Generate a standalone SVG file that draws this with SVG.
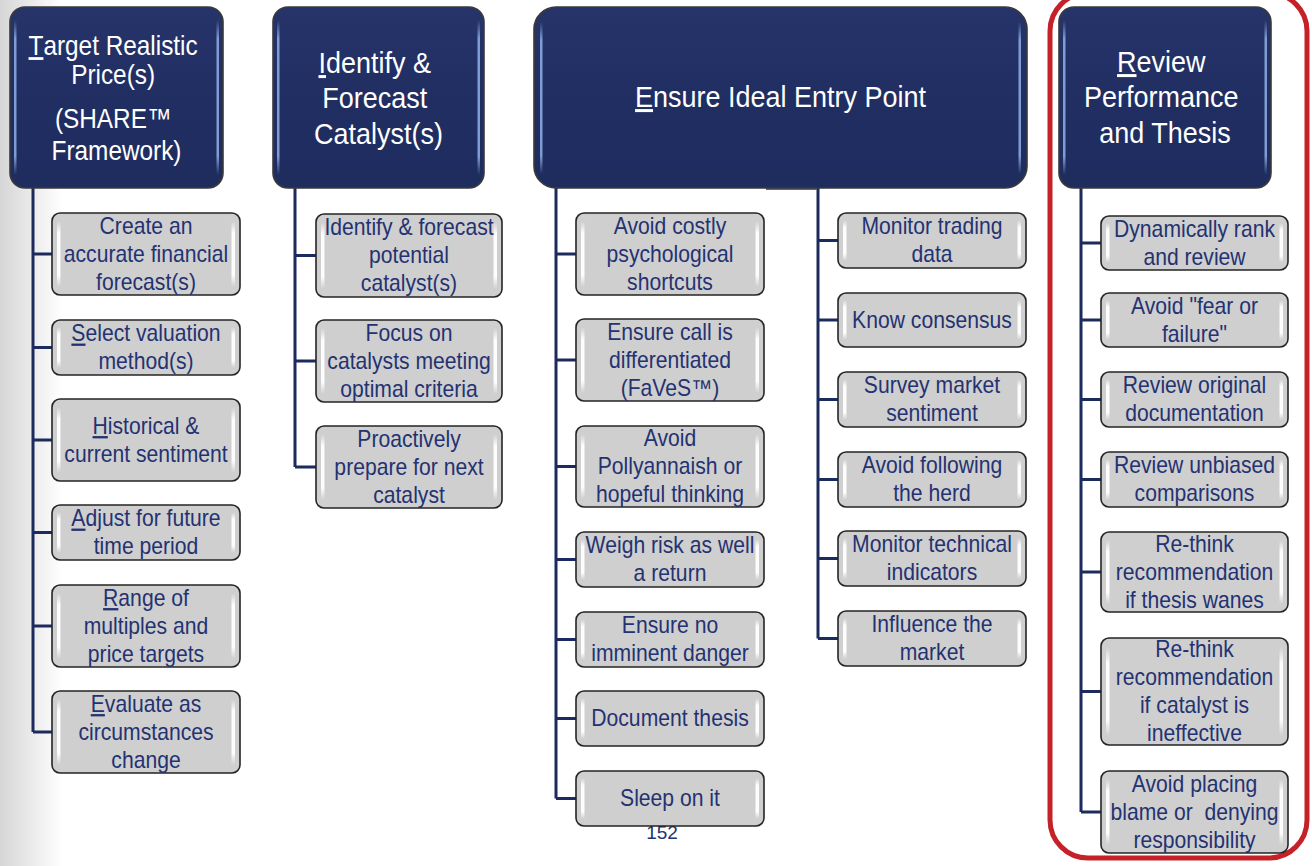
<svg xmlns="http://www.w3.org/2000/svg" width="1312" height="866" viewBox="0 0 1312 866">
<defs>
  <linearGradient id="pageEdge" x1="0" y1="0" x2="1" y2="0">
    <stop offset="0" stop-color="#d6d6d6"/>
    <stop offset="0.6" stop-color="#eeeeee"/>
    <stop offset="1" stop-color="#ffffff"/>
  </linearGradient>
  <linearGradient id="hdrFill" x1="0" y1="0" x2="0" y2="1">
    <stop offset="0" stop-color="#26346a"/>
    <stop offset="0.5" stop-color="#212e62"/>
    <stop offset="1" stop-color="#1f2c5e"/>
  </linearGradient>
  <linearGradient id="hdrHl" x1="0" y1="0" x2="0" y2="1">
    <stop offset="0" stop-color="#8fb0e8" stop-opacity="0"/>
    <stop offset="0.12" stop-color="#8fb0e8" stop-opacity="0.85"/>
    <stop offset="0.88" stop-color="#8fb0e8" stop-opacity="0.85"/>
    <stop offset="1" stop-color="#8fb0e8" stop-opacity="0"/>
  </linearGradient>
  <linearGradient id="boxHl" x1="0" y1="0" x2="0" y2="1">
    <stop offset="0" stop-color="#ffffff" stop-opacity="0"/>
    <stop offset="0.18" stop-color="#ffffff" stop-opacity="0.95"/>
    <stop offset="0.82" stop-color="#ffffff" stop-opacity="0.95"/>
    <stop offset="1" stop-color="#ffffff" stop-opacity="0"/>
  </linearGradient>
</defs>
<style>
  .hdr { fill: url(#hdrFill); stroke: #3a3a3a; stroke-width: 1.6; }
  .hhl { fill: url(#hdrHl); }
  .box { fill: #cfcfcf; stroke: #252525; stroke-width: 1.6; }
  .bhl { fill: url(#boxHl); }
  .ht { font-family: "Liberation Sans", Arial, sans-serif; font-size: 30px; fill: #ffffff; text-anchor: middle; }
  .ct { font-family: "Liberation Sans", Arial, sans-serif; font-size: 23px; fill: #243271; text-anchor: middle; }
  .conn { stroke: #1d2a5e; stroke-width: 3; fill: none; }
  .frame { fill: none; stroke: #c42129; stroke-width: 5; }
  .pg { font-family: "Liberation Sans", Arial, sans-serif; font-size: 19px; fill: #243271; text-anchor: middle; }
</style>

<rect x="0" y="0" width="1312" height="866" fill="#ffffff"/>
<rect x="0" y="0" width="62" height="866" fill="url(#pageEdge)"/>

<rect class="frame" x="1050" y="-7" width="257" height="865" rx="38"/>

<text class="pg" x="662" y="839">152</text>

<g id="connectors">
  <path class="conn" d="M33 188 V732 M33 254 H52 M33 347.5 H52 M33 440 H52 M33 532.5 H52 M33 626 H52 M33 732 H52"/>
  <path class="conn" d="M295 188 V467 M295 255.5 H316 M295 361 H316 M295 467 H316"/>
  <path class="conn" d="M556 188 V798.5 M556 254 H576 M556 360 H576 M556 466.5 H576 M556 559.5 H576 M556 639.5 H576 M556 718.5 H576 M556 798.5 H576"/>
  <path class="conn" d="M818 188 V638.5 M818 240.5 H838 M818 320 H838 M818 399.5 H838 M818 479.5 H838 M818 558.5 H838 M818 638.5 H838"/>
  <path class="conn" d="M1081 188 V812 M1081 243 H1101 M1081 320 H1101 M1081 399.5 H1101 M1081 479.5 H1101 M1081 572 H1101 M1081 691.5 H1101 M1081 812 H1101"/>
  <line x1="766" y1="189" x2="817" y2="189" stroke="#56648f" stroke-width="2"/>
</g>

<!-- Headers -->
<g id="h-target">
  <rect class="hdr" x="10" y="7" width="213" height="181" rx="15"/>
  <rect class="hhl" x="14" y="20" width="2.5" height="155" rx="1"/>
  <rect class="hhl" x="216.5" y="20" width="2.5" height="155" rx="1"/>
  <text class="ht" style="font-size:28px" transform="translate(116.5 0) scale(0.87 1)">
    <tspan x="0" y="55"><tspan text-decoration="underline">T</tspan>arget Realistic</tspan>
    <tspan x="0" y="84">Price(s)</tspan>
    <tspan x="0" y="128">(SHARE™</tspan>
    <tspan x="0" y="160">Framework)</tspan>
  </text>
</g>
<g id="h-identify">
  <rect class="hdr" x="273" y="7" width="211" height="181" rx="15"/>
  <rect class="hhl" x="277" y="20" width="2.5" height="155" rx="1"/>
  <rect class="hhl" x="477.5" y="20" width="2.5" height="155" rx="1"/>
  <text class="ht" transform="translate(378.5 0) scale(0.9 1)">
    <tspan x="0" y="73"><tspan text-decoration="underline">I</tspan>dentify &amp;</tspan>
    <tspan x="0" y="108">Forecast</tspan>
    <tspan x="0" y="144">Catalyst(s)</tspan>
  </text>
</g>
<g id="h-ensure">
  <rect class="hdr" x="534" y="7" width="493" height="181" rx="22"/>
  <rect class="hhl" x="540" y="22" width="2.5" height="152" rx="1"/>
  <rect class="hhl" x="1018.5" y="22" width="2.5" height="152" rx="1"/>
  <text class="ht" transform="translate(780.5 0) scale(0.9 1)">
    <tspan x="0" y="107"><tspan text-decoration="underline">E</tspan>nsure Ideal Entry Point</tspan>
  </text>
</g>
<g id="h-review">
  <rect class="hdr" x="1059" y="7" width="212" height="181" rx="15"/>
  <rect class="hhl" x="1063" y="20" width="2.5" height="155" rx="1"/>
  <rect class="hhl" x="1264.5" y="20" width="2.5" height="155" rx="1"/>
  <text class="ht" transform="translate(1165 0) scale(0.9 1)">
    <tspan x="0" y="72"><tspan text-decoration="underline">R</tspan>eview</tspan>
    <tspan x="0" y="107.5">Performance</tspan>
    <tspan x="0" y="143">and Thesis</tspan>
  </text>
</g>

<!-- Column 1 -->
<g id="c1-1">
  <rect class="box" x="52" y="213" width="188" height="82" rx="8"/>
  <rect class="bhl" x="57" y="221" width="3.5" height="66" rx="1.5"/><rect class="bhl" x="231.5" y="221" width="3.5" height="66" rx="1.5"/>
  <text class="ct" transform="translate(146 0) scale(0.92 1)"><tspan x="0" y="234">Create an</tspan><tspan x="0" y="262">accurate financial</tspan><tspan x="0" y="290">forecast(s)</tspan></text>
</g>
<g id="c1-2">
  <rect class="box" x="52" y="320" width="188" height="55" rx="8"/>
  <rect class="bhl" x="57" y="327" width="3.5" height="41" rx="1.5"/><rect class="bhl" x="231.5" y="327" width="3.5" height="41" rx="1.5"/>
  <text class="ct" transform="translate(146 0) scale(0.92 1)"><tspan x="0" y="341.5"><tspan text-decoration="underline">S</tspan>elect valuation</tspan><tspan x="0" y="369.5">method(s)</tspan></text>
</g>
<g id="c1-3">
  <rect class="box" x="52" y="399" width="188" height="82" rx="8"/>
  <rect class="bhl" x="57" y="407" width="3.5" height="66" rx="1.5"/><rect class="bhl" x="231.5" y="407" width="3.5" height="66" rx="1.5"/>
  <text class="ct" transform="translate(146 0) scale(0.92 1)"><tspan x="0" y="434"><tspan text-decoration="underline">H</tspan>istorical &amp;</tspan><tspan x="0" y="462">current sentiment</tspan></text>
</g>
<g id="c1-4">
  <rect class="box" x="52" y="505" width="188" height="55" rx="8"/>
  <rect class="bhl" x="57" y="512" width="3.5" height="41" rx="1.5"/><rect class="bhl" x="231.5" y="512" width="3.5" height="41" rx="1.5"/>
  <text class="ct" transform="translate(146 0) scale(0.92 1)"><tspan x="0" y="526.5"><tspan text-decoration="underline">A</tspan>djust for future</tspan><tspan x="0" y="554.5">time period</tspan></text>
</g>
<g id="c1-5">
  <rect class="box" x="52" y="585" width="188" height="82" rx="8"/>
  <rect class="bhl" x="57" y="593" width="3.5" height="66" rx="1.5"/><rect class="bhl" x="231.5" y="593" width="3.5" height="66" rx="1.5"/>
  <text class="ct" transform="translate(146 0) scale(0.92 1)"><tspan x="0" y="606"><tspan text-decoration="underline">R</tspan>ange of</tspan><tspan x="0" y="634">multiples and</tspan><tspan x="0" y="662">price targets</tspan></text>
</g>
<g id="c1-6">
  <rect class="box" x="52" y="691" width="188" height="82" rx="8"/>
  <rect class="bhl" x="57" y="699" width="3.5" height="66" rx="1.5"/><rect class="bhl" x="231.5" y="699" width="3.5" height="66" rx="1.5"/>
  <text class="ct" transform="translate(146 0) scale(0.92 1)"><tspan x="0" y="712"><tspan text-decoration="underline">E</tspan>valuate as</tspan><tspan x="0" y="740">circumstances</tspan><tspan x="0" y="768">change</tspan></text>
</g>

<!-- Column 2 -->
<g id="c2-1">
  <rect class="box" x="316" y="214" width="186" height="83" rx="8"/>
  <rect class="bhl" x="321" y="222" width="3.5" height="67" rx="1.5"/><rect class="bhl" x="493.5" y="222" width="3.5" height="67" rx="1.5"/>
  <text class="ct" transform="translate(409 0) scale(0.92 1)"><tspan x="0" y="235.5">Identify &amp; forecast</tspan><tspan x="0" y="263.5">potential</tspan><tspan x="0" y="291.5">catalyst(s)</tspan></text>
</g>
<g id="c2-2">
  <rect class="box" x="316" y="320" width="186" height="82" rx="8"/>
  <rect class="bhl" x="321" y="328" width="3.5" height="66" rx="1.5"/><rect class="bhl" x="493.5" y="328" width="3.5" height="66" rx="1.5"/>
  <text class="ct" transform="translate(409 0) scale(0.92 1)"><tspan x="0" y="341">Focus on</tspan><tspan x="0" y="369">catalysts meeting</tspan><tspan x="0" y="397">optimal criteria</tspan></text>
</g>
<g id="c2-3">
  <rect class="box" x="316" y="426" width="186" height="82" rx="8"/>
  <rect class="bhl" x="321" y="434" width="3.5" height="66" rx="1.5"/><rect class="bhl" x="493.5" y="434" width="3.5" height="66" rx="1.5"/>
  <text class="ct" transform="translate(409 0) scale(0.92 1)"><tspan x="0" y="447">Proactively</tspan><tspan x="0" y="475">prepare for next</tspan><tspan x="0" y="503">catalyst</tspan></text>
</g>

<!-- Column 3a -->
<g id="c3-1">
  <rect class="box" x="576" y="213" width="188" height="82" rx="8"/>
  <rect class="bhl" x="581" y="221" width="3.5" height="66" rx="1.5"/><rect class="bhl" x="755.5" y="221" width="3.5" height="66" rx="1.5"/>
  <text class="ct" transform="translate(670 0) scale(0.92 1)"><tspan x="0" y="234">Avoid costly</tspan><tspan x="0" y="262">psychological</tspan><tspan x="0" y="290">shortcuts</tspan></text>
</g>
<g id="c3-2">
  <rect class="box" x="576" y="319" width="188" height="82" rx="8"/>
  <rect class="bhl" x="581" y="327" width="3.5" height="66" rx="1.5"/><rect class="bhl" x="755.5" y="327" width="3.5" height="66" rx="1.5"/>
  <text class="ct" transform="translate(670 0) scale(0.92 1)"><tspan x="0" y="340">Ensure call is</tspan><tspan x="0" y="368">differentiated</tspan><tspan x="0" y="396">(FaVeS™)</tspan></text>
</g>
<g id="c3-3">
  <rect class="box" x="576" y="426" width="188" height="81" rx="8"/>
  <rect class="bhl" x="581" y="434" width="3.5" height="65" rx="1.5"/><rect class="bhl" x="755.5" y="434" width="3.5" height="65" rx="1.5"/>
  <text class="ct" transform="translate(670 0) scale(0.92 1)"><tspan x="0" y="446.5">Avoid</tspan><tspan x="0" y="474.5">Pollyannaish or</tspan><tspan x="0" y="502.5">hopeful thinking</tspan></text>
</g>
<g id="c3-4">
  <rect class="box" x="576" y="532" width="188" height="55" rx="8"/>
  <rect class="bhl" x="581" y="539" width="3.5" height="41" rx="1.5"/><rect class="bhl" x="755.5" y="539" width="3.5" height="41" rx="1.5"/>
  <text class="ct" transform="translate(670 0) scale(0.92 1)"><tspan x="0" y="553.5">Weigh risk as well</tspan><tspan x="0" y="581.5">a return</tspan></text>
</g>
<g id="c3-5">
  <rect class="box" x="576" y="612" width="188" height="55" rx="8"/>
  <rect class="bhl" x="581" y="619" width="3.5" height="41" rx="1.5"/><rect class="bhl" x="755.5" y="619" width="3.5" height="41" rx="1.5"/>
  <text class="ct" transform="translate(670 0) scale(0.92 1)"><tspan x="0" y="633.5">Ensure no</tspan><tspan x="0" y="661.5">imminent danger</tspan></text>
</g>
<g id="c3-6">
  <rect class="box" x="576" y="691" width="188" height="55" rx="8"/>
  <rect class="bhl" x="581" y="698" width="3.5" height="41" rx="1.5"/><rect class="bhl" x="755.5" y="698" width="3.5" height="41" rx="1.5"/>
  <text class="ct" transform="translate(670 0) scale(0.92 1)"><tspan x="0" y="726.5">Document thesis</tspan></text>
</g>
<g id="c3-7">
  <rect class="box" x="576" y="771" width="188" height="55" rx="8"/>
  <rect class="bhl" x="581" y="778" width="3.5" height="41" rx="1.5"/><rect class="bhl" x="755.5" y="778" width="3.5" height="41" rx="1.5"/>
  <text class="ct" transform="translate(670 0) scale(0.92 1)"><tspan x="0" y="806.5">Sleep on it</tspan></text>
</g>

<!-- Column 3b -->
<g id="c3b-1">
  <rect class="box" x="838" y="213" width="188" height="55" rx="8"/>
  <rect class="bhl" x="843" y="220" width="3.5" height="41" rx="1.5"/><rect class="bhl" x="1017.5" y="220" width="3.5" height="41" rx="1.5"/>
  <text class="ct" transform="translate(932 0) scale(0.92 1)"><tspan x="0" y="234.5">Monitor trading</tspan><tspan x="0" y="262.5">data</tspan></text>
</g>
<g id="c3b-2">
  <rect class="box" x="838" y="293" width="188" height="54" rx="8"/>
  <rect class="bhl" x="843" y="300" width="3.5" height="40" rx="1.5"/><rect class="bhl" x="1017.5" y="300" width="3.5" height="40" rx="1.5"/>
  <text class="ct" transform="translate(932 0) scale(0.92 1)"><tspan x="0" y="328">Know consensus</tspan></text>
</g>
<g id="c3b-3">
  <rect class="box" x="838" y="372" width="188" height="55" rx="8"/>
  <rect class="bhl" x="843" y="379" width="3.5" height="41" rx="1.5"/><rect class="bhl" x="1017.5" y="379" width="3.5" height="41" rx="1.5"/>
  <text class="ct" transform="translate(932 0) scale(0.92 1)"><tspan x="0" y="393.5">Survey market</tspan><tspan x="0" y="421.5">sentiment</tspan></text>
</g>
<g id="c3b-4">
  <rect class="box" x="838" y="452" width="188" height="55" rx="8"/>
  <rect class="bhl" x="843" y="459" width="3.5" height="41" rx="1.5"/><rect class="bhl" x="1017.5" y="459" width="3.5" height="41" rx="1.5"/>
  <text class="ct" transform="translate(932 0) scale(0.92 1)"><tspan x="0" y="473.5">Avoid following</tspan><tspan x="0" y="501.5">the herd</tspan></text>
</g>
<g id="c3b-5">
  <rect class="box" x="838" y="531" width="188" height="55" rx="8"/>
  <rect class="bhl" x="843" y="538" width="3.5" height="41" rx="1.5"/><rect class="bhl" x="1017.5" y="538" width="3.5" height="41" rx="1.5"/>
  <text class="ct" transform="translate(932 0) scale(0.92 1)"><tspan x="0" y="552.5">Monitor technical</tspan><tspan x="0" y="580.5">indicators</tspan></text>
</g>
<g id="c3b-6">
  <rect class="box" x="838" y="611" width="188" height="55" rx="8"/>
  <rect class="bhl" x="843" y="618" width="3.5" height="41" rx="1.5"/><rect class="bhl" x="1017.5" y="618" width="3.5" height="41" rx="1.5"/>
  <text class="ct" transform="translate(932 0) scale(0.92 1)"><tspan x="0" y="632.5">Influence the</tspan><tspan x="0" y="660.5">market</tspan></text>
</g>

<!-- Column 4 -->
<g id="c4-1">
  <rect class="box" x="1101" y="216" width="187" height="54" rx="8"/>
  <rect class="bhl" x="1106" y="223" width="3.5" height="40" rx="1.5"/><rect class="bhl" x="1279.5" y="223" width="3.5" height="40" rx="1.5"/>
  <text class="ct" transform="translate(1194.5 0) scale(0.92 1)"><tspan x="0" y="237">Dynamically rank</tspan><tspan x="0" y="265">and review</tspan></text>
</g>
<g id="c4-2">
  <rect class="box" x="1101" y="293" width="187" height="54" rx="8"/>
  <rect class="bhl" x="1106" y="300" width="3.5" height="40" rx="1.5"/><rect class="bhl" x="1279.5" y="300" width="3.5" height="40" rx="1.5"/>
  <text class="ct" transform="translate(1194.5 0) scale(0.92 1)"><tspan x="0" y="314">Avoid "fear or</tspan><tspan x="0" y="342">failure"</tspan></text>
</g>
<g id="c4-3">
  <rect class="box" x="1101" y="372" width="187" height="55" rx="8"/>
  <rect class="bhl" x="1106" y="379" width="3.5" height="41" rx="1.5"/><rect class="bhl" x="1279.5" y="379" width="3.5" height="41" rx="1.5"/>
  <text class="ct" transform="translate(1194.5 0) scale(0.92 1)"><tspan x="0" y="393.5">Review original</tspan><tspan x="0" y="421.5">documentation</tspan></text>
</g>
<g id="c4-4">
  <rect class="box" x="1101" y="452" width="187" height="55" rx="8"/>
  <rect class="bhl" x="1106" y="459" width="3.5" height="41" rx="1.5"/><rect class="bhl" x="1279.5" y="459" width="3.5" height="41" rx="1.5"/>
  <text class="ct" transform="translate(1194.5 0) scale(0.92 1)"><tspan x="0" y="473.5">Review unbiased</tspan><tspan x="0" y="501.5">comparisons</tspan></text>
</g>
<g id="c4-5">
  <rect class="box" x="1101" y="532" width="187" height="80" rx="8"/>
  <rect class="bhl" x="1106" y="540" width="3.5" height="64" rx="1.5"/><rect class="bhl" x="1279.5" y="540" width="3.5" height="64" rx="1.5"/>
  <text class="ct" transform="translate(1194.5 0) scale(0.92 1)"><tspan x="0" y="552">Re-think</tspan><tspan x="0" y="580">recommendation</tspan><tspan x="0" y="608">if thesis wanes</tspan></text>
</g>
<g id="c4-6">
  <rect class="box" x="1101" y="638" width="187" height="107" rx="8"/>
  <rect class="bhl" x="1106" y="647" width="3.5" height="89" rx="1.5"/><rect class="bhl" x="1279.5" y="647" width="3.5" height="89" rx="1.5"/>
  <text class="ct" transform="translate(1194.5 0) scale(0.92 1)"><tspan x="0" y="657.5">Re-think</tspan><tspan x="0" y="685.5">recommendation</tspan><tspan x="0" y="713.5">if catalyst is</tspan><tspan x="0" y="741.5">ineffective</tspan></text>
</g>
<g id="c4-7">
  <rect class="box" x="1101" y="771" width="187" height="82" rx="8"/>
  <rect class="bhl" x="1106" y="779" width="3.5" height="66" rx="1.5"/><rect class="bhl" x="1279.5" y="779" width="3.5" height="66" rx="1.5"/>
  <text class="ct" xml:space="preserve" transform="translate(1194.5 0) scale(0.92 1)"><tspan x="0" y="792">Avoid placing</tspan><tspan x="0" y="820">blame or  denying</tspan><tspan x="0" y="848">responsibility</tspan></text>
</g>
</svg>
